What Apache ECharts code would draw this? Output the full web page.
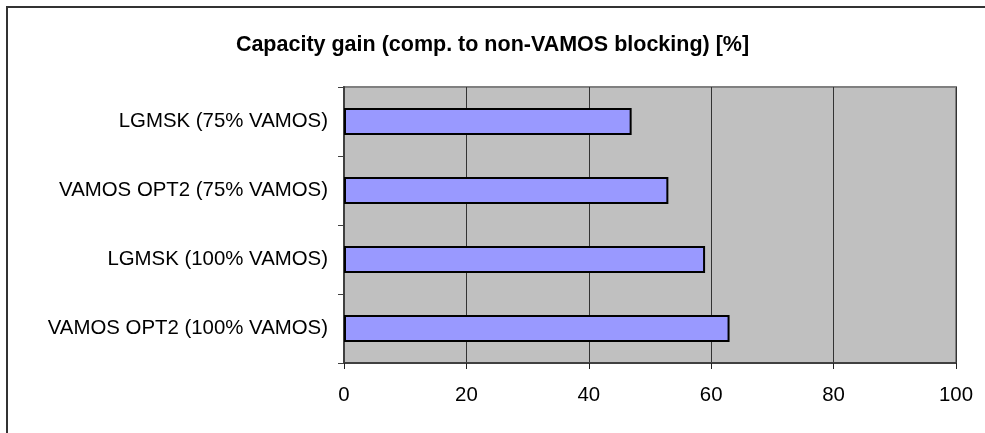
<!DOCTYPE html>
<html>
<head>
<meta charset="utf-8">
<script src="https://cdn.jsdelivr.net/npm/echarts@6/dist/echarts.min.js"></script>
<style>
  html, body { margin: 0; padding: 0; background: #ffffff; }
  #chart { width: 985px; height: 433px; }
</style>
</head>
<body>
<div id="chart"></div>
<script>
// Capacity gain per configuration, in percent
const categories = [
  'LGMSK (75% VAMOS)',
  'VAMOS OPT2 (75% VAMOS)',
  'LGMSK (100% VAMOS)',
  'VAMOS OPT2 (100% VAMOS)'
];
const gainValues = [47, 53, 59, 63];
const titleText = 'Capacity gain (comp. to non-VAMOS blocking) [%]';

const FONT = '"Liberation Sans", Arial, Helvetica, sans-serif';

const chart = echarts.init(document.getElementById('chart'), null, { renderer: 'canvas' });

chart.setOption({
  animation: false,
  backgroundColor: '#ffffff',
  title: {
    text: titleText,
    left: 'center',
    top: 29,
    textStyle: { fontFamily: FONT, fontSize: 21.5, fontWeight: 'bold', color: '#000000' }
  },
  graphic: [{
    type: 'rect',
    shape: { x: 7, y: 7, width: 1000, height: 500 },
    style: { fill: 'none', stroke: '#333333', lineWidth: 2 },
    z: 100
  }],
  grid: {
    left: 344,
    right: 29,
    top: 87,
    bottom: 70,
    show: true,
    backgroundColor: '#C0C0C0',
    borderColor: '#808080',
    borderWidth: 2
  },
  xAxis: {
    type: 'value',
    min: 0,
    max: 100,
    interval: 20,
    axisLine: { show: true, lineStyle: { color: '#404040', width: 2 } },
    axisTick: { show: true, length: 6, lineStyle: { color: '#222222', width: 1 } },
    axisLabel: { fontFamily: FONT, fontSize: 20.4, color: '#000000', margin: 22 },
    splitLine: { show: true, lineStyle: { color: '#333333', width: 1 } }
  },
  yAxis: {
    type: 'category',
    inverse: true,
    data: categories,
    axisLine: { show: true, lineStyle: { color: '#404040', width: 2 } },
    axisTick: { show: true, length: 6, lineStyle: { color: '#404040', width: 1 } },
    axisLabel: { fontFamily: FONT, fontSize: 20.4, color: '#000000', margin: 16 },
    splitLine: { show: false }
  },
  series: [{
    type: 'bar',
    data: gainValues,
    barWidth: 27,
    itemStyle: { color: '#9999FF', borderColor: '#000000', borderWidth: 2 },
    z: 3
  }]
});
</script>
</body>
</html>
